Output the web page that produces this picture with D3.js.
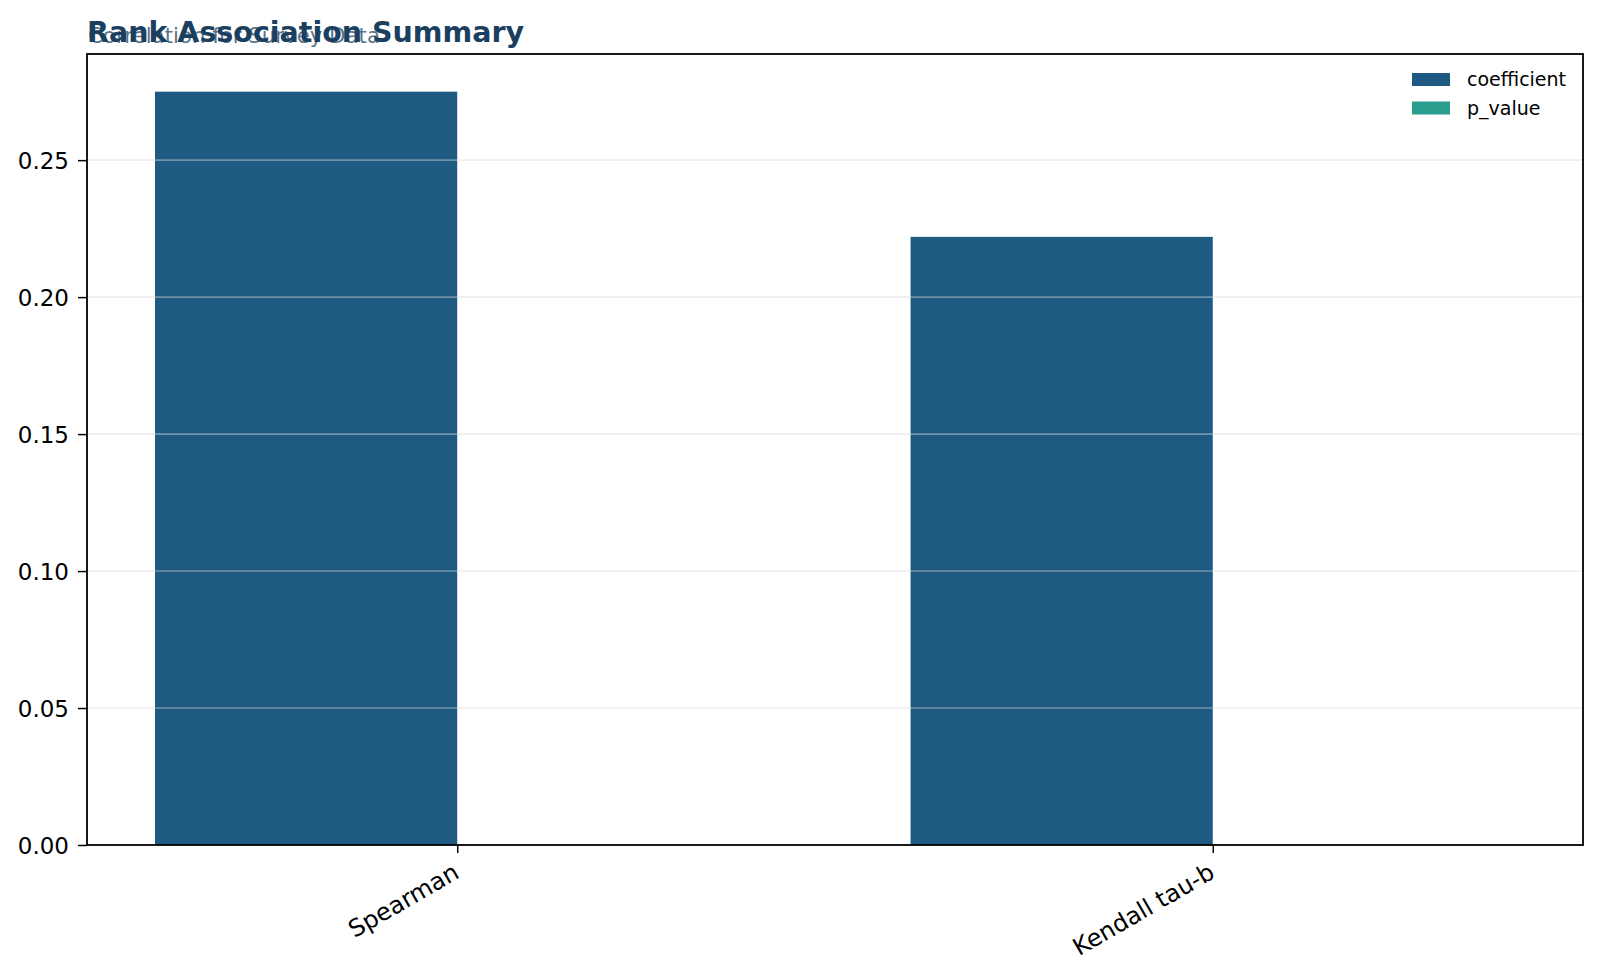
<!DOCTYPE html>
<html><head><meta charset="utf-8">
<script src="https://cdn.jsdelivr.net/npm/d3@7"></script>
<style>body{margin:0;background:#fff;} svg{display:block;font-family:"DejaVu Sans",sans-serif;}</style>
</head><body>
<svg id="c" width="1600" height="978"></svg>
<script>
const categories = ["Spearman", "Kendall tau-b"];
const seriesNames = ["coefficient", "p_value"];
const coefficient = [0.275, 0.222];
const p_value = [0.00002, 0.00004];
const yTicks = [0.00, 0.05, 0.10, 0.15, 0.20, 0.25];
const colors = ["#1f5a82", "#2a9d8f"];

const svg = d3.select("#c");
const L = 87, R = 1583, T = 54, B = 845;
const barW = 0.4;
const x = d3.scaleLinear().domain([-0.49, 1.49]).range([L, R]);
const y = d3.scaleLinear().domain([0, 0.275 * 1.05]).range([B, T]);
const series = [coefficient, p_value];

// bars
series.forEach((vals, si) => {
  svg.append("g").selectAll("rect").data(vals).join("rect")
    .attr("x", (d, i) => x(i - barW + si * barW))
    .attr("width", (d, i) => x(barW) - x(0))
    .attr("y", d => y(d))
    .attr("height", d => y(0) - y(d))
    .attr("fill", colors[si]);
});

// grid on top
svg.append("g").selectAll("line").data(yTicks.slice(1)).join("line")
  .attr("x1", L).attr("x2", R)
  .attr("y1", d => y(d)).attr("y2", d => y(d))
  .attr("stroke", "#d9d9d9").attr("stroke-opacity", 0.45).attr("stroke-width", 1.6);

// y axis
const yAxis = d3.axisLeft(y).tickValues(yTicks).tickFormat(d3.format(".2f")).tickSize(9).tickPadding(9);
const gy = svg.append("g").attr("transform", `translate(${L},0)`).call(yAxis);
gy.select(".domain").remove();
gy.selectAll("text").attr("font-size", 23).attr("fill", "#000").attr("font-family", "DejaVu Sans").attr("dy", "0.36em");
gy.selectAll("line").attr("stroke", "#000").attr("stroke-width", 1.5);

// x axis
const xAxis = d3.axisBottom(x).tickValues(d3.range(categories.length)).tickFormat(i => categories[i]).tickSize(8).tickPadding(5);
const gx = svg.append("g").attr("transform", `translate(0,${B})`).call(xAxis);
gx.select(".domain").remove();
gx.selectAll("line").attr("stroke", "#000").attr("stroke-width", 1.5);
gx.selectAll("text").attr("font-size", 24).attr("fill", "#000").attr("font-family", "DejaVu Sans")
  .attr("text-anchor", "end")
  .attr("x", 0).attr("y", 0).attr("dy", 0)
  .attr("transform", "translate(3,32) rotate(-30)");

// frame
svg.append("rect").attr("x", L).attr("y", T).attr("width", R - L).attr("height", B - T)
  .attr("fill", "none").attr("stroke", "#000").attr("stroke-width", 1.8);

// legend
const lg = svg.append("g");
seriesNames.forEach((n, i) => {
  lg.append("rect").attr("x", 1412).attr("y", 73 + i * 28.5).attr("width", 38).attr("height", 13).attr("fill", colors[i]);
  lg.append("text").attr("x", 1467).attr("y", 86 + i * 28.5).attr("font-size", 19).attr("fill", "#000").text(n);
});

// subtitle and title
svg.append("text").attr("x", 88).attr("y", 43).attr("font-size", 21.3).attr("fill", "#3f5a72").attr("fill-opacity", 0.85)
  .text("Correlation for Survey Data");
svg.append("text").attr("x", 87).attr("y", 41.5).attr("font-size", 28.5).attr("font-weight", "bold").attr("fill", "#1b3f5f")
  .text("Rank Association Summary");
</script>
</body></html>
